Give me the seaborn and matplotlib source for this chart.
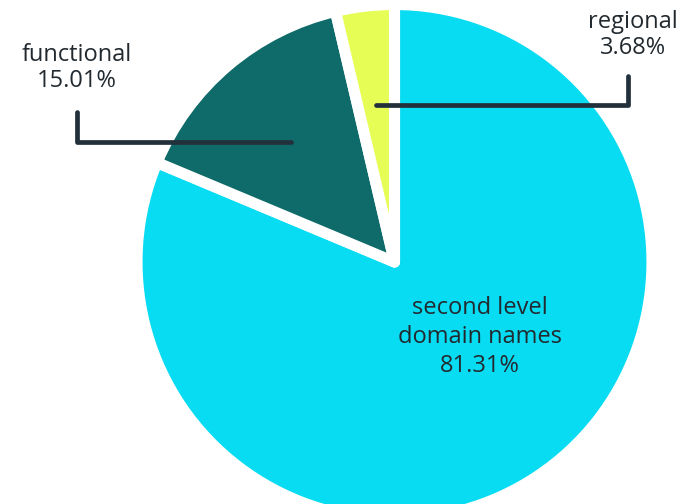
import numpy as np
import matplotlib.pyplot as plt
import seaborn as sns

# slice data (clockwise from 12 o'clock)
labels = ['second level\ndomain names', 'functional', 'regional']
shares = [81.31, 15.01, 3.68]
colors = ['#07dcf2', '#0f6b69', '#e6fd55']

sns.set_theme(style='white')
plt.rcParams['font.family'] = ['Open Sans', 'DejaVu Sans']

fig = plt.figure(figsize=(6.86, 5.04), dpi=100)
ax = fig.add_axes([0, 0, 1, 1])

cx, cy, R = 394.5, 242, 257.5
wedges, _ = ax.pie(shares, colors=colors, startangle=90, counterclock=False,
                   radius=R, center=(cx, cy),
                   wedgeprops=dict(edgecolor='white', linewidth=8, joinstyle='round'))
ax.set_xlim(0, 686)
ax.set_ylim(0, 504)
ax.set_aspect('equal')
ax.axis('off')

txt = '#222a30'
line_c = '#22303c'

# big slice label inside
ax.text(480, 504 - 337, f'{labels[0]}\n{shares[0]:.2f}%', ha='center', va='center',
        fontsize=17, color=txt, linespacing=1.25)

# leader lines for the small slices
elbows = {1: (77, 504 - 112, 77, 504 - 68), 2: (628, 504 - 76, 633, 504 - 35)}
for i in (1, 2):
    w = wedges[i]
    mid = np.deg2rad((w.theta1 + w.theta2) / 2)
    sx = cx + 0.62 * R * np.cos(mid)
    sy = cy + 0.62 * R * np.sin(mid)
    ex, ey, tx, ty = elbows[i]
    ax.plot([sx, ex, ex], [sy - 2, sy - 2, ey], color=line_c, lw=3.4,
            solid_capstyle='round', solid_joinstyle='round')
    ax.text(tx, ty, f'{labels[i]}\n{shares[i]:.2f}%', ha='center', va='center',
            fontsize=17, color=txt, linespacing=1.12)

fig.savefig('out.png', dpi=100)
